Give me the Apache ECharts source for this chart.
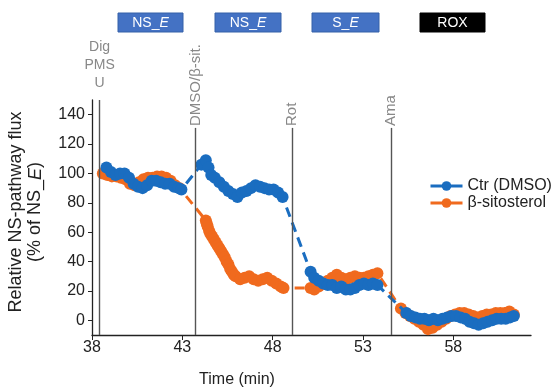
<!DOCTYPE html>
<html>
<head>
<meta charset="utf-8">
<script src="https://cdn.jsdelivr.net/npm/echarts@6/dist/echarts.min.js"></script>
<style>
    html, body { margin: 0; padding: 0; background: #fff; }
    #chart { width: 556px; height: 389px; }
</style>
</head>
<body>
<div id="chart"></div>
<script>
// 数据
const ctrTime = [38.8, 39.05, 39.3, 39.55, 39.8, 40.05, 40.3, 40.55, 40.8, 41.05, 41.3, 41.55, 41.8, 42.05, 42.3, 42.55, 42.8, 42.95,
    44.05, 44.3, 44.45, 44.6, 44.8, 45.05, 45.3, 45.55, 45.8, 46.05, 46.3, 46.55, 46.8, 47.05, 47.3, 47.55, 47.8, 48.05, 48.3, 48.55,
    50.1, 50.3, 50.55, 50.8, 51.05, 51.3, 51.55, 51.8, 52.05, 52.3, 52.55, 52.8, 53.05, 53.3, 53.55, 53.8,
    55.4, 55.65, 55.9, 56.15, 56.4, 56.65, 56.9, 57.15, 57.4, 57.65, 57.9, 58.15, 58.4, 58.65, 58.9, 59.15, 59.4, 59.65, 59.9, 60.15, 60.4, 60.65, 60.9, 61.15, 61.35];
const ctrFlux = [104, 101, 99, 100, 100, 97, 93, 91, 90, 92, 95, 95, 94, 93, 93, 91, 90, 89,
    106, 109, 104, 99, 97, 94, 91, 88, 86, 84, 87, 88, 90, 92, 91, 90, 89, 89, 87, 84,
    33, 29, 27, 25, 24, 24, 22, 23, 21, 21, 22, 24, 25, 24, 25, 24,
    5, 3, 2, 1, 1, 0, 1, 0, 1, 2, 3, 3, 2, 1, -1, -2, -3, -2, -1, 0, 1, 1, 1, 2, 3];

const sitoTime = [38.6, 38.85, 39.1, 39.35, 39.6, 39.85, 40.1, 40.35, 40.6, 40.85, 41.1, 41.35, 41.6, 41.85, 42.1, 42.35, 42.6, 42.85,
    44.3, 44.35, 44.4, 44.48, 44.55, 44.65, 44.75, 44.85, 44.95, 45.05, 45.15, 45.25, 45.35, 45.45, 45.55, 45.65, 45.75, 45.85, 45.95,
    46.2, 46.45, 46.7, 46.95, 47.2, 47.45, 47.7, 47.95, 48.2, 48.45, 48.6,
    50.1, 50.3, 50.55, 50.8, 51.05, 51.3, 51.55, 51.8, 52.05, 52.3, 52.55, 52.8, 53.05, 53.3, 53.55, 53.8,
    55.1, 55.35, 55.6, 55.85, 56.1, 56.35, 56.6, 56.85, 57.1, 57.35, 57.6, 57.85, 58.1, 58.35, 58.6, 58.85, 59.1, 59.35, 59.6, 59.85, 60.1, 60.35, 60.6, 60.85, 61.1, 61.35];
const sitoFlux = [100, 99, 98, 98, 97, 96, 93, 92, 94, 96, 97, 97, 98, 98, 97, 95, 92, 90,
    68, 66, 64, 61, 59, 57, 55, 53, 51, 49, 47, 45, 43, 40, 38, 35, 33, 31, 30,
    28, 29, 30, 28, 27, 28, 29, 27, 25, 23, 22,
    22, 21, 23, 25, 27, 29, 31, 29, 28, 29, 30, 29, 29, 30, 31, 32,
    8, 5, 3, 1, -1, -3, -6, -5, -3, -1, 1, 3, 4, 5, 5, 4, 3, 2, 3, 4, 4, 5, 5, 5, 6, 4];

const xTicks = [38, 43, 48, 53, 58];
const yTicks = [0, 20, 40, 60, 80, 100, 120, 140];

// 加药事件
const eventTimes = [38.42, 43.73, 49.08, 54.57];
const eventLabels = ["Dig\nPMS\nU", "DMSO/β-sit.", "Rot", "Ama"];

// 顶部滴定框
const boxLabels = ["{n|NS_}{e|E}", "{n|NS_}{e|E}", "{n|S_}{e|E}", "{n|ROX}"];

const font = "Liberation Sans";
const blue = "#1a6dc0";
const orange = "#f06a1e";

(function () {
    let myChart = echarts.init(document.getElementById("chart"));

    function pairs(xs, ys) {
        return xs.map((x, i) => [x, ys[i]]);
    }

    let option = {
        animation: false,
        grid: { left: 92, right: 25, top: 100, bottom: 54 },
        legend: {
            data: ["Ctr (DMSO)", "β-sitosterol"],
            orient: "vertical",
            left: 424,
            top: 173,
            itemWidth: 32,
            itemHeight: 12,
            itemGap: 1,
            lineStyle: { type: "solid", width: 3 },
            textStyle: { fontSize: 16, color: "#222", fontFamily: font }
        },
        xAxis: {
            type: "value",
            min: 38,
            max: 62.3,
            axisLine: { onZero: false, lineStyle: { color: "#222", width: 1.3 } },
            axisTick: { customValues: xTicks, length: 5, lineStyle: { color: "#222" } },
            axisLabel: { customValues: xTicks, margin: 5, fontSize: 16, color: "#222", fontFamily: font },
            splitLine: { show: false }
        },
        yAxis: {
            type: "value",
            min: -10,
            max: 150,
            axisLine: { show: true, onZero: false, lineStyle: { color: "#222", width: 1.3 } },
            axisTick: { show: true, customValues: yTicks, length: 4, lineStyle: { color: "#222" } },
            axisLabel: { customValues: yTicks, margin: 7, fontSize: 16, color: "#222", fontFamily: font },
            splitLine: { show: false }
        },
        series: [
            {
                name: "β-sitosterol",
                type: "line",
                data: pairs(sitoTime, sitoFlux),
                symbol: "circle",
                symbolSize: 12,
                itemStyle: { color: orange, borderWidth: 0 },
                lineStyle: { color: orange, width: 3, type: [10, 6] },
                z: 2,
                silent: true,
                markLine: {
                    silent: true,
                    symbol: "none",
                    label: { show: false },
                    lineStyle: { color: "#555", width: 1.4, type: "solid" },
                    data: eventTimes.map((t, i) => [
                        { coord: [t, i === 0 ? 150 : 131] },
                        { coord: [t, -10] }
                    ])
                }
            },
            {
                name: "Ctr (DMSO)",
                type: "line",
                data: pairs(ctrTime, ctrFlux),
                symbol: "circle",
                symbolSize: 12,
                itemStyle: { color: blue, borderWidth: 0 },
                lineStyle: { color: blue, width: 3, type: [10, 6] },
                z: 3,
                silent: true
            }
        ]
    };
    myChart.setOption(option);

    // 注释文字
    let graphics = [];
    eventTimes.forEach(function (t, i) {
        let px = myChart.convertToPixel({ xAxisIndex: 0 }, t);
        if (i === 0) {
            graphics.push({
                type: "text", x: px, y: 65,
                style: { text: eventLabels[i], fill: "#888", font: "14px " + font, align: "center", verticalAlign: "middle", lineHeight: 18 }
            });
        } else {
            graphics.push({
                type: "text", x: px, y: 126, rotation: Math.PI / 2,
                style: { text: eventLabels[i], fill: "#888", font: "15px " + font, align: "left", verticalAlign: "middle" }
            });
        }
    });

    const boxX = [118, 215, 312, 420];
    const boxW = [65, 66, 67, 65];
    boxLabels.forEach(function (lab, i) {
        let fill = i === 3 ? "#000" : "#4472c4";
        graphics.push({
            type: "rect",
            shape: { x: boxX[i], y: 13, width: boxW[i], height: 19 },
            style: { fill: fill, stroke: i === 3 ? "#000" : "#3560a8", lineWidth: 1 }
        });
        graphics.push({
            type: "text", x: boxX[i] + boxW[i] / 2, y: 23,
            style: {
                text: lab, fill: "#fff", align: "center", verticalAlign: "middle",
                rich: {
                    n: { fontSize: 14, fontFamily: font, fill: "#fff" },
                    e: { fontSize: 14, fontFamily: font, fontStyle: "italic", fill: "#fff" }
                }
            }
        });
    });

    // 轴标题
    graphics.push({
        type: "text", x: 26, y: 212, rotation: Math.PI / 2,
        style: {
            text: "{n|Relative NS-pathway flux}\n{n|(% of NS_}{e|E}{n|)}",
            align: "center", verticalAlign: "middle",
            rich: {
                n: { fontSize: 18, fontFamily: font, fill: "#222", lineHeight: 19 },
                e: { fontSize: 18, fontFamily: font, fontStyle: "italic", fill: "#222", lineHeight: 19 }
            }
        }
    });
    graphics.push({
        type: "text", x: 237, y: 380,
        style: { text: "Time (min)", fill: "#222", font: "16px " + font, align: "center", verticalAlign: "middle" }
    });

    myChart.setOption({ graphic: graphics });

    window.addEventListener("resize", function () {
        myChart.resize();
    });
})();
</script>
</body>
</html>
